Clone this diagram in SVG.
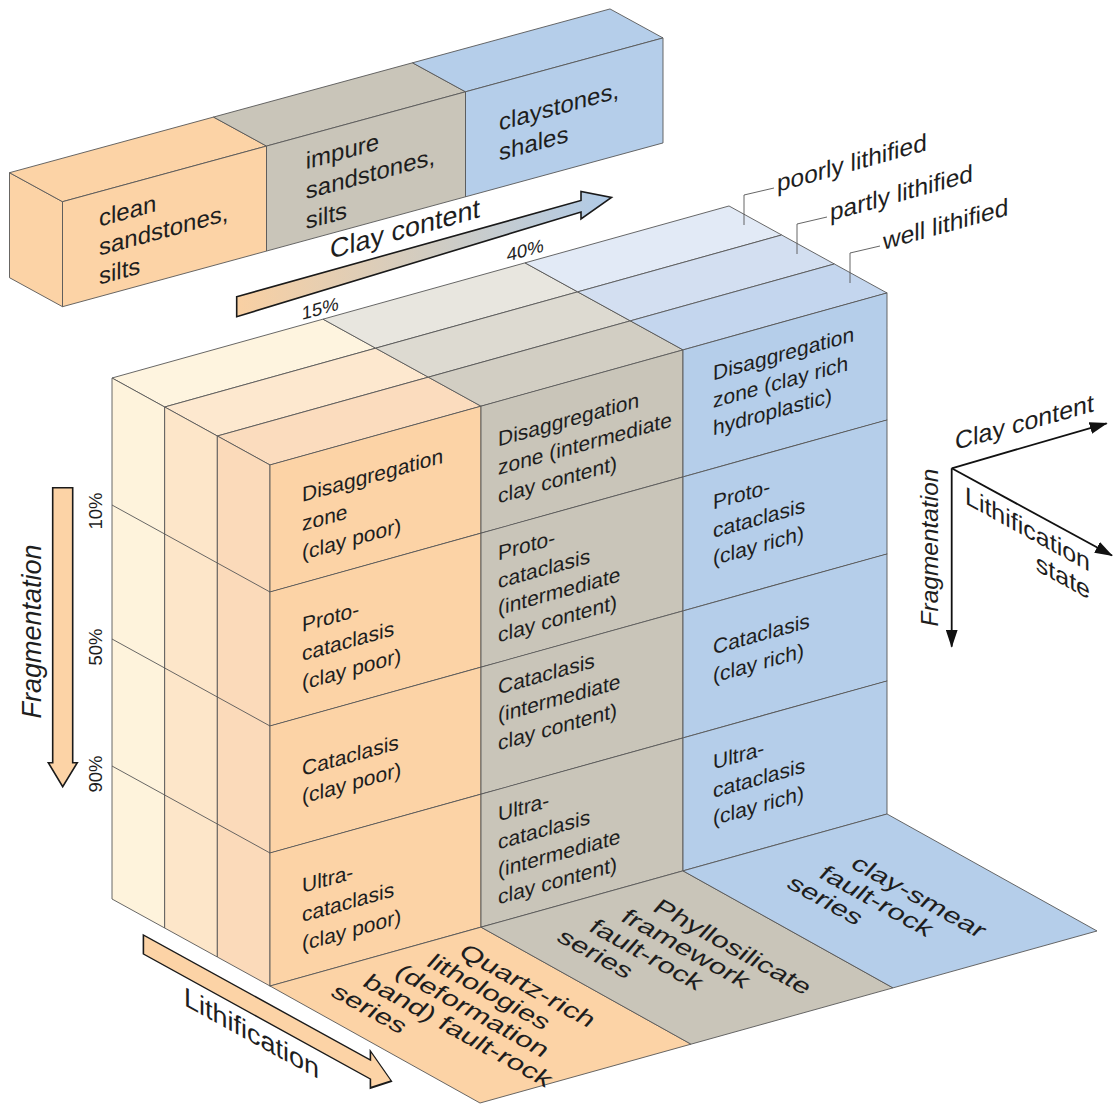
<svg xmlns="http://www.w3.org/2000/svg" width="1114" height="1104" viewBox="0 0 1114 1104">
<style>
.t{font-family:"Liberation Sans",Arial,sans-serif;fill:#1e1e1e}
.c{font-size:21px}
.f{font-size:22.5px}
.e{stroke:#575757;stroke-width:0.9;stroke-linejoin:round}
.or{fill:#FCD3A6}.gr{fill:#C9C5B9}.bl{fill:#B5CEEA}
.ax{stroke:#111;stroke-width:1.8;fill:none}
.ld{stroke:#555;stroke-width:0.9;fill:none}
</style>
<defs>
<linearGradient id="claygrad" gradientUnits="userSpaceOnUse" x1="236" y1="0" x2="612" y2="0">
<stop offset="0" stop-color="#F9D0A3"/><stop offset="0.5" stop-color="#D2CCC0"/><stop offset="1" stop-color="#B0CBE8"/>
</linearGradient>
<marker id="ah" viewBox="0 0 18 12" refX="17" refY="6" markerWidth="18" markerHeight="12" markerUnits="userSpaceOnUse" orient="auto">
<path d="M0,0 L18,6 L0,12 z" fill="#111"/>
</marker>
</defs>
<rect width="1114" height="1104" fill="#fff"/>

<!-- Top lithology prism -->
<g id="lithology-prism">
<polygon class="or e" points="9.5,172.7 62.5,201.7 62.5,306.7 9.5,277.7"/>
<polygon class="or e" points="9.5,172.7 213.5,117.07 266.5,146.07 62.5,201.7"/>
<polygon class="gr e" points="213.5,117.07 412.5,62.8 465.5,91.8 266.5,146.07"/>
<polygon class="bl e" points="412.5,62.8 610,8.94 663,37.94 465.5,91.8"/>
<g id="clean-sandstones">
<polygon class="or e" points="62.5,201.7 266.5,146.07 266.5,251.07 62.5,306.7"/>
<text class="t" font-size="24" transform="translate(62.5,201.7) skewY(-15.25)"><tspan x="36.5" y="35">clean</tspan><tspan x="36.5" y="64">sandstones,</tspan><tspan x="36.5" y="93">silts</tspan></text>
</g>
<g id="impure-sandstones">
<polygon class="gr e" points="266.5,146.07 465.5,91.8 465.5,196.8 266.5,251.07"/>
<text class="t" font-size="24" transform="translate(62.5,201.7) skewY(-15.25)"><tspan x="243.3" y="34">impure</tspan><tspan x="243.3" y="64">sandstones,</tspan><tspan x="243.3" y="94">silts</tspan></text>
</g>
<g id="claystones-shales">
<polygon class="bl e" points="465.5,91.8 663,37.94 663,142.94 465.5,196.8"/>
<text class="t" font-size="24" transform="translate(62.5,201.7) skewY(-15.25)"><tspan x="436.6" y="48">claystones,</tspan><tspan x="436.6" y="78">shales</tspan></text>
</g>
</g>

<!-- Clay content arrow -->
<g id="clay-content-arrow">
<polygon points="236.7,296.7 581,200.5 581,191.5 611.5,197.5 581,219 581,212 236.7,316.7" fill="url(#claygrad)" stroke="#1a1a1a" stroke-width="1.6" stroke-linejoin="miter"/>
<text class="t" font-size="27" transform="translate(330,259) skewY(-15.58)">Clay content</text>
<text class="t" font-size="18.5" transform="translate(301.7,320) skewY(-15.58)">15%</text>
<text class="t" font-size="18.5" transform="translate(506.7,261.7) skewY(-15.58)">40%</text>
</g>

<!-- Main block: top face -->
<g id="top-face">
<polygon fill="#FEF4DF" class="e" points="112,378 323,319.17 375.67,348.17 164.67,407"/>
<polygon fill="#FDE8CF" class="e" points="164.67,407 375.67,348.17 428.33,377.17 217.33,436"/>
<polygon fill="#FBDCBE" class="e" points="217.33,436 428.33,377.17 481,406.17 270,465"/>
<polygon fill="#E8E6DF" class="e" points="323,319.17 525,262.86 577.67,291.86 375.67,348.17"/>
<polygon fill="#DDDAD1" class="e" points="375.67,348.17 577.67,291.86 630.33,320.86 428.33,377.17"/>
<polygon fill="#D2CEC3" class="e" points="428.33,377.17 630.33,320.86 683,349.86 481,406.17"/>
<polygon fill="#E2EAF6" class="e" points="525,262.86 729,205.98 781.67,234.98 577.67,291.86"/>
<polygon fill="#D3DFF1" class="e" points="577.67,291.86 781.67,234.98 834.33,263.98 630.33,320.86"/>
<polygon fill="#C4D6EE" class="e" points="630.33,320.86 834.33,263.98 887,292.98 683,349.86"/>
</g>

<!-- Main block: left side face -->
<g id="side-face">
<polygon fill="#FEF3DC" class="e" points="112,378 164.67,407 164.67,928 112,899"/>
<polygon fill="#FDE6C9" class="e" points="164.67,407 217.33,436 217.33,957 164.67,928"/>
<polygon fill="#FBDABA" class="e" points="217.33,436 270,465 270,986 217.33,957"/>
<line class="e" x1="112" y1="505" x2="270" y2="592"/>
<line class="e" x1="112" y1="639" x2="270" y2="726"/>
<line class="e" x1="112" y1="766" x2="270" y2="853"/>
<text class="t" font-size="18.5" text-anchor="middle" transform="translate(101.5,511) rotate(-90)">10%</text>
<text class="t" font-size="18.5" text-anchor="middle" transform="translate(101.5,647) rotate(-90)">50%</text>
<text class="t" font-size="18.5" text-anchor="middle" transform="translate(101.5,774) rotate(-90)">90%</text>
</g>

<!-- Main block: front face cells -->
<g id="front-face" transform="translate(270,465) skewY(-15.58)">
<g id="orange-disaggregation"><rect class="or e" x="0" y="0" width="211" height="127"/>
<text class="t c"><tspan x="32" y="46">Disaggregation</tspan><tspan x="32" y="75">zone</tspan><tspan x="32" y="104">(clay poor)</tspan></text></g>
<g id="orange-protocataclasis"><rect class="or e" x="0" y="127" width="211" height="134"/>
<text class="t c"><tspan x="32" y="176">Proto-</tspan><tspan x="32" y="205">cataclasis</tspan><tspan x="32" y="234">(clay poor)</tspan></text></g>
<g id="orange-cataclasis"><rect class="or e" x="0" y="261" width="211" height="127"/>
<text class="t c"><tspan x="32" y="320">Cataclasis</tspan><tspan x="32" y="348">(clay poor)</tspan></text></g>
<g id="orange-ultracataclasis"><rect class="or e" x="0" y="388" width="211" height="133"/>
<text class="t c"><tspan x="32" y="437">Ultra-</tspan><tspan x="32" y="466">cataclasis</tspan><tspan x="32" y="495">(clay poor)</tspan></text></g>

<g id="gray-disaggregation"><rect class="gr e" x="211" y="0" width="202" height="127"/>
<text class="t c"><tspan x="228" y="45">Disaggregation</tspan><tspan x="228" y="73.5">zone (intermediate</tspan><tspan x="228" y="102">clay content)</tspan></text></g>
<g id="gray-protocataclasis"><rect class="gr e" x="211" y="127" width="202" height="134"/>
<text class="t c"><tspan x="228" y="159">Proto-</tspan><tspan x="228" y="187">cataclasis</tspan><tspan x="228" y="214">(intermediate</tspan><tspan x="228" y="241">clay content)</tspan></text></g>
<g id="gray-cataclasis"><rect class="gr e" x="211" y="261" width="202" height="127"/>
<text class="t c"><tspan x="228" y="293">Cataclasis</tspan><tspan x="228" y="321">(intermediate</tspan><tspan x="228" y="349">clay content)</tspan></text></g>
<g id="gray-ultracataclasis"><rect class="gr e" x="211" y="388" width="202" height="133"/>
<text class="t c"><tspan x="228" y="420">Ultra-</tspan><tspan x="228" y="448">cataclasis</tspan><tspan x="228" y="476">(intermediate</tspan><tspan x="228" y="503">clay content)</tspan></text></g>

<g id="blue-disaggregation"><rect class="bl e" x="413" y="0" width="204" height="127"/>
<text class="t c"><tspan x="443" y="39">Disaggregation</tspan><tspan x="443" y="66.5">zone (clay rich</tspan><tspan x="443" y="94">hydroplastic)</tspan></text></g>
<g id="blue-protocataclasis"><rect class="bl e" x="413" y="127" width="204" height="134"/>
<text class="t c"><tspan x="443" y="168">Proto-</tspan><tspan x="443" y="196.5">cataclasis</tspan><tspan x="443" y="224">(clay rich)</tspan></text></g>
<g id="blue-cataclasis"><rect class="bl e" x="413" y="261" width="204" height="127"/>
<text class="t c"><tspan x="443" y="313">Cataclasis</tspan><tspan x="443" y="341.5">(clay rich)</tspan></text></g>
<g id="blue-ultracataclasis"><rect class="bl e" x="413" y="388" width="204" height="133"/>
<text class="t c"><tspan x="443" y="428">Ultra-</tspan><tspan x="443" y="456.5">cataclasis</tspan><tspan x="443" y="484">(clay rich)</tspan></text></g>
</g>

<!-- Floor -->
<g id="floor-quartz">
<polygon class="or e" points="270,986 481,927.17 691,1044.17 480,1103"/>
<text class="t f" transform="translate(457,955) rotate(29.12) skewX(-12) scale(1.35,1)"><tspan x="0" y="0">Quartz-rich</tspan><tspan x="-13.3" y="24.3">lithologies</tspan><tspan x="-26.6" y="48.6">(deformation</tspan><tspan x="-39.9" y="72.9">band) fault-rock</tspan><tspan x="-53.2" y="97.2">series</tspan></text>
</g>
<g id="floor-phyllosilicate">
<polygon class="gr e" points="481,927.17 683,870.86 893,987.86 691,1044.17"/>
<text class="t f" transform="translate(651,910) rotate(29.12) skewX(-12) scale(1.35,1)"><tspan x="0" y="0">Phyllosilicate</tspan><tspan x="-13.3" y="24.3">framework</tspan><tspan x="-26.6" y="48.6">fault-rock</tspan><tspan x="-39.9" y="72.9">series</tspan></text>
</g>
<g id="floor-claysmear">
<polygon class="bl e" points="683,870.86 887,813.98 1097,930.98 893,987.86"/>
<text class="t f" transform="translate(849,866.5) rotate(29.12) skewX(-12) scale(1.35,1)"><tspan x="0" y="0">clay-smear</tspan><tspan x="-13.3" y="24.3">fault-rock</tspan><tspan x="-26.6" y="48.6">series</tspan></text>
</g>

<!-- Fragmentation arrow (left) -->
<g id="fragmentation-arrow">
<polygon points="52.7,487.7 72.7,487.7 72.7,762.7 77.3,762.7 62.7,786.7 48.3,762.7 52.7,762.7" fill="#FCD3A6" stroke="#1a1a1a" stroke-width="1.6"/>
<text class="t" font-size="27" font-style="italic" text-anchor="middle" transform="translate(41,631.5) rotate(-90)">Fragmentation</text>
</g>

<!-- Lithification arrow (bottom) -->
<g id="lithification-arrow">
<g transform="translate(143.4,935) skewY(28.84)">
<polygon points="0,0 227,0 227,-9 248,9.5 227,28 227,19 0,19" fill="#FCD3A6" stroke="#1a1a1a" stroke-width="1.6"/>
</g>
<text class="t" font-size="27" transform="translate(184,1005) skewY(28.84)">Lithification</text>
</g>

<!-- Connectors: leaders and legend axes -->
<g id="connectors">
<polyline class="ld" points="744,225 744,195 774,188"/>
<polyline class="ld" points="797,254 797,224 827,217"/>
<polyline class="ld" points="850,283 850,253 880,246"/>
<line class="ax" x1="951.7" y1="468.3" x2="951.7" y2="646.7" marker-end="url(#ah)"/>
<line class="ax" x1="951.7" y1="468.3" x2="1106.7" y2="423.3" marker-end="url(#ah)"/>
<line class="ax" x1="951.7" y1="468.3" x2="1112" y2="555.5" marker-end="url(#ah)"/>
</g>
<g id="label-poorly"><text class="t" font-size="24.5" transform="translate(777,192) skewY(-15.58)">poorly lithified</text></g>
<g id="label-partly"><text class="t" font-size="24.5" transform="translate(830,221) skewY(-15.58)">partly lithified</text></g>
<g id="label-well"><text class="t" font-size="24.5" transform="translate(883,250) skewY(-15.58)">well lithified</text></g>

<!-- Legend -->
<g id="legend">
<text class="t" font-size="25" transform="translate(955,450) skewY(-15.58)">Clay content</text>
<text class="t" font-size="24.5" font-style="italic" text-anchor="middle" transform="translate(937.5,547.5) rotate(-90)">Fragmentation</text>
<text class="t" font-size="25" text-anchor="end" transform="translate(1090,572) skewY(28.84)"><tspan x="0" y="0">Lithification</tspan><tspan x="0" y="28">state</tspan></text>
</g>
</svg>
